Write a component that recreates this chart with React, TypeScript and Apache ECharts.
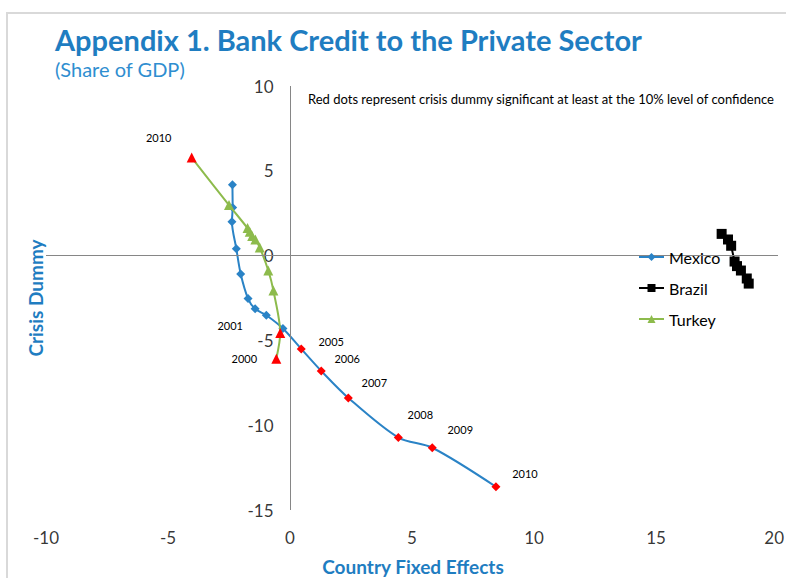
import React, { useEffect, useRef } from "react";
import * as echarts from "echarts";

const mexicoYears = [1996, 1997, 1998, 1999, 2000, 2001, 2002, 2003, 2004, 2005, 2006, 2007, 2008, 2009, 2010];
const mexicoX = [-2.36, -2.35, -2.38, -2.2, -2.02, -1.72, -1.43, -0.97, -0.29, 0.46, 1.28, 2.39, 4.44, 5.83, 8.44];
const mexicoY = [4.18, 2.84, 2.0, 0.41, -1.08, -2.53, -3.14, -3.52, -4.3, -5.5, -6.8, -8.39, -10.73, -11.33, -13.63];
const mexicoCrisis = [false, false, false, false, false, false, false, false, false, true, true, true, true, true, true];
const mexicoLabelled = [2005, 2006, 2007, 2008, 2009, 2010];

const turkeyYears = [2000, 2001, 2002, 2003, 2004, 2005, 2006, 2007, 2008, 2009, 2010];
const turkeyX = [-0.56, -0.4, -0.68, -0.89, -1.24, -1.42, -1.55, -1.65, -1.74, -2.5, -4.03];
const turkeyY = [-6.08, -4.57, -2.06, -0.88, 0.48, 0.95, 1.15, 1.4, 1.62, 2.98, 5.78];
const turkeyCrisis = [true, true, false, false, false, false, false, false, false, false, true];
const turkeyLabelled = [2000, 2001, 2010];

const brazilX = [17.69, 17.95, 18.08, 18.22, 18.32, 18.48, 18.72, 18.8];
const brazilY = [1.28, 0.95, 0.58, -0.35, -0.62, -0.88, -1.35, -1.65];

const xTicks = { min: -10, max: 20, interval: 5 };
const yTicks = { min: -15, max: 10, interval: 5 };
// tick labels: x labels sit below the plot, y labels beside the axis that crosses at x = 0
const xTickValues = [-10, -5, 0, 5, 10, 15, 20];
const yTickValues = [-15, -10, -5, 0, 5, 10];
const yAxisCrossAt = 0;

const titleText = "Appendix 1. Bank Credit to the Private Sector";
const subtitleText = "(Share of GDP)";
const noteText = "Red dots represent crisis dummy significant at least at the 10% level of confidence";
const xTitle = "Country Fixed Effects";
const yTitle = "Crisis Dummy";

// label placement (styling only): pixel offsets from point centre
const mexicoLabelOffset: Record<number, [number, number]> = {
  2005: [30, -7],
  2006: [26, -12],
  2007: [26, -15],
  2008: [22, -23],
  2009: [28, -18],
  2010: [29, -13],
};
const turkeyLabelOffset: Record<number, [number, number]> = {
  2000: [-32, 0],
  2001: [-50, -8],
  2010: [-33, -20],
};

const FONT = "Lato, 'Liberation Sans', sans-serif";
const BLUE = "#1F7DC1";
const MEX = "#2A83C6";
const TUR = "#8DBB4C";
const AXIS_GREY = "#868686";

const GRID = { left: 46, right: 8, top: 86, bottom: 68 };

function buildPoints(
  xs: number[],
  ys: number[],
  years: number[],
  crisis: boolean[],
  labelled: number[],
  offsets: Record<number, [number, number]>
) {
  return xs.map((x, i) => {
    const yr = years[i];
    const item: any = { value: [x, ys[i]] };
    if (crisis[i]) item.itemStyle = { color: "#FF0000" };
    if (labelled.includes(yr)) {
      item.label = {
        show: true,
        position: "inside",
        offset: offsets[yr] || [0, 0],
        formatter: String(yr),
        color: "#000",
        fontSize: 11,
        fontFamily: FONT,
      };
    }
    return item;
  });
}

const tickLabelStyle = { fontFamily: FONT, fontSize: 17, color: "#000" };

export default function App() {
  const ref = useRef<HTMLDivElement>(null);
  useEffect(() => {
    if (!ref.current) return;
    const chart = echarts.init(ref.current, undefined, { renderer: "svg" });
    chart.setOption({
      animation: false,
      backgroundColor: "#fff",
      title: {
        text: titleText,
        subtext: subtitleText,
        left: 50,
        top: 20,
        itemGap: 5,
        textStyle: { fontFamily: FONT, fontWeight: "bold", fontSize: 29, color: BLUE },
        subtextStyle: { fontFamily: FONT, fontSize: 20, color: "#2F8ED0" },
      },
      legend: {
        orient: "vertical",
        left: 633,
        top: 244,
        itemGap: 15,
        itemWidth: 25,
        itemHeight: 10,
        textStyle: { fontFamily: FONT, fontSize: 16, color: "#000" },
        data: ["Mexico", "Brazil", "Turkey"],
        z: 10,
      },
      grid: GRID,
      xAxis: {
        type: "value",
        min: xTicks.min,
        max: xTicks.max,
        interval: xTicks.interval,
        axisLine: { show: false, onZero: false },
        axisTick: { show: false },
        splitLine: { show: false },
        axisLabel: { show: false },
      },
      yAxis: {
        type: "value",
        min: yTicks.min,
        max: yTicks.max,
        interval: yTicks.interval,
        axisLine: { show: false, onZero: false },
        axisTick: { show: false },
        splitLine: { show: false },
        axisLabel: { show: false },
      },
      graphic: [
        {
          type: "rect",
          shape: { x: 7, y: 13, width: 820, height: 620 },
          style: { fill: "none", stroke: "#D9D9D9", lineWidth: 2 },
          silent: true,
        },
        {
          type: "text",
          left: 308,
          top: 92,
          style: { text: noteText, fontFamily: FONT, fontSize: 13, fill: "#000" },
        },
        {
          type: "text",
          x: 413,
          y: 566,
          style: {
            text: xTitle,
            fontFamily: FONT,
            fontWeight: "bold",
            fontSize: 19,
            fill: BLUE,
            align: "center",
            verticalAlign: "middle",
          },
        },
        {
          type: "text",
          x: 35,
          y: 298,
          rotation: Math.PI / 2,
          style: {
            text: yTitle,
            fontFamily: FONT,
            fontWeight: "bold",
            fontSize: 19,
            fill: BLUE,
            align: "center",
            verticalAlign: "middle",
          },
        },
      ],
      series: [
        {
          name: "xTickLabels",
          type: "scatter",
          silent: true,
          symbolSize: 1,
          itemStyle: { color: "rgba(0,0,0,0)" },
          data: xTickValues.map((v) =>
            v === xTicks.max
              ? { value: [v, yTicks.min], label: { align: "right", offset: [6, 0] } }
              : { value: [v, yTicks.min] }
          ),
          label: {
            show: true,
            position: "bottom",
            distance: 18,
            formatter: (p: any) => String(p.value[0]),
            ...tickLabelStyle,
          },
          z: 1,
        },
        {
          name: "yTickLabels",
          type: "scatter",
          silent: true,
          symbolSize: 1,
          itemStyle: { color: "rgba(0,0,0,0)" },
          data: yTickValues.map((v) => [yAxisCrossAt, v]),
          label: {
            show: true,
            position: "left",
            distance: 16,
            formatter: (p: any) => String(p.value[1]),
            ...tickLabelStyle,
          },
          markLine: {
            silent: true,
            symbol: "none",
            label: { show: false },
            lineStyle: { color: AXIS_GREY, type: "solid", width: 1 },
            data: [{ yAxis: 0 }, { xAxis: yAxisCrossAt }],
          },
          z: 1,
        },
        {
          name: "Mexico",
          type: "line",
          smooth: 0.3,
          symbol: "diamond",
          symbolSize: 9,
          lineStyle: { color: MEX, width: 2 },
          itemStyle: { color: MEX },
          data: buildPoints(mexicoX, mexicoY, mexicoYears, mexicoCrisis, mexicoLabelled, mexicoLabelOffset),
          z: 3,
        },
        {
          name: "Brazil",
          type: "line",
          symbol: "rect",
          symbolSize: 10,
          lineStyle: { color: "#000", width: 2 },
          itemStyle: { color: "#000" },
          data: brazilX.map((x, i) => [x, brazilY[i]]),
          z: 2,
        },
        {
          name: "Turkey",
          type: "line",
          smooth: 0.3,
          symbol: "triangle",
          symbolSize: 10,
          lineStyle: { color: TUR, width: 2 },
          itemStyle: { color: TUR },
          data: buildPoints(turkeyX, turkeyY, turkeyYears, turkeyCrisis, turkeyLabelled, turkeyLabelOffset),
          z: 4,
        },
      ],
    });
    return () => chart.dispose();
  }, []);
  return <div ref={ref} style={{ width: 786, height: 578, position: "absolute", left: 0, top: 0 }} />;
}
